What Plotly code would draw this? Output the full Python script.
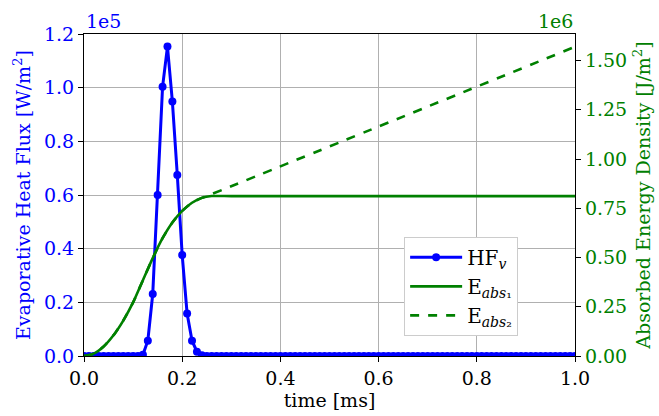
import plotly.graph_objects as go

# ---- data ----
# time grid for the heat-flux samples [ms]
t_hf = [round(i * 0.01, 2) for i in range(101)]
# evaporative heat flux in units of 1e5 W/m^2 (zero except during the pulse)
hf_peak = [0.005, 0.057, 0.231, 0.600, 1.003, 1.153, 0.948, 0.675, 0.376, 0.158, 0.057, 0.016, 0.003]
hf_1e5 = [0.0] * 12 + hf_peak + [0.0] * 76

# absorbed energy density in units of 1e6 J/m^2
t_e = [0.0, 0.02, 0.04, 0.06, 0.08, 0.10, 0.12, 0.14, 0.16, 0.18, 0.20, 0.22, 0.24, 0.26, 0.30, 1.0]
e1_1e6 = [0.0, 0.012, 0.048, 0.105, 0.180, 0.272, 0.385, 0.497, 0.598, 0.678, 0.737, 0.778, 0.803, 0.812, 0.812, 0.812]
t_e2 = [0.0, 0.02, 0.04, 0.06, 0.08, 0.10, 0.12, 0.14, 0.16, 0.18, 0.20, 0.22, 0.24, 0.26, 1.0]
e2_1e6 = [0.0, 0.012, 0.048, 0.105, 0.180, 0.272, 0.385, 0.497, 0.598, 0.678, 0.737, 0.778, 0.803, 0.822, 1.570]

x_ticks = [0.0, 0.2, 0.4, 0.6, 0.8, 1.0]
y1_ticks = [0.0, 0.2, 0.4, 0.6, 0.8, 1.0, 1.2]
y2_ticks = [0.0, 0.25, 0.5, 0.75, 1.0, 1.25, 1.5]

BLUE = "#0000ff"
GREEN = "#008000"
FONT = "'DejaVu Serif', serif"
FS = 19

fig = go.Figure()
fig.add_trace(go.Scatter(
    x=t_hf, y=hf_1e5, mode="lines+markers", name="HF<sub><i>v</i></sub>",
    line=dict(color=BLUE, width=3), marker=dict(color=BLUE, size=8),
    yaxis="y"))
fig.add_trace(go.Scatter(
    x=t_e, y=e1_1e6, mode="lines", name="E<sub><i>abs</i>₁</sub>",
    line=dict(color=GREEN, width=2.6, shape="spline", smoothing=0.6),
    yaxis="y2"))
fig.add_trace(go.Scatter(
    x=t_e2, y=e2_1e6, mode="lines", name="E<sub><i>abs</i>₂</sub>",
    line=dict(color=GREEN, width=2.6, dash="dash", shape="spline", smoothing=0.6),
    yaxis="y2"))

fig.update_layout(
    width=659, height=416,
    margin=dict(l=84, r=84, t=34, b=60, autoexpand=False),
    paper_bgcolor="white", plot_bgcolor="white",
    font=dict(family=FONT, size=FS, color="black"),
    showlegend=True,
    legend=dict(x=0.652, y=0.37, xanchor="left", yanchor="top",
                bgcolor="white", bordercolor="#cccccc", borderwidth=1,
                itemwidth=52, tracegroupgap=4,
                font=dict(family=FONT, size=20)),
    xaxis=dict(range=[0, 1], tickvals=x_ticks, ticktext=[f"{v:.1f}" for v in x_ticks],
               showgrid=True, gridcolor="#b0b0b0", gridwidth=1, zeroline=False,
               showline=True, linecolor="black", linewidth=1.2, mirror=True,
               ticks="outside", ticklen=5, tickcolor="black", automargin=False,
               title=dict(text="time [ms]", font=dict(family=FONT, size=FS), standoff=4)),
    yaxis=dict(range=[0, 1.2], tickvals=y1_ticks, ticktext=[f"{v:.1f}" for v in y1_ticks],
               showgrid=True, gridcolor="#b0b0b0", gridwidth=1, zeroline=False,
               showline=True, linecolor="black", linewidth=1.2,
               ticks="outside", ticklen=5, tickcolor="black", automargin=False,
               tickfont=dict(color=BLUE, family=FONT, size=FS),
               title=dict(text="Evaporative Heat Flux [W/m<sup>2</sup>]",
                          font=dict(color=BLUE, family=FONT, size=FS), standoff=8)),
    yaxis2=dict(range=[0, 1.635], overlaying="y", side="right",
                tickvals=y2_ticks, ticktext=[f"{v:.2f}" for v in y2_ticks],
                showgrid=False, zeroline=False, automargin=False,
                showline=True, linecolor="black", linewidth=1.2,
                ticks="outside", ticklen=5, tickcolor="black",
                tickfont=dict(color=GREEN, family=FONT, size=FS),
                title=dict(text="Absorbed Energy Density [J/m<sup>2</sup>]",
                           font=dict(color=GREEN, family=FONT, size=FS), standoff=10)),
    annotations=[
        dict(text="1e5", xref="paper", yref="paper", x=0, y=1, xanchor="left",
             yanchor="bottom", showarrow=False, yshift=0,
             font=dict(color=BLUE, family=FONT, size=FS)),
        dict(text="1e6", xref="paper", yref="paper", x=1, y=1, xanchor="right",
             yanchor="bottom", showarrow=False, yshift=0,
             font=dict(color=GREEN, family=FONT, size=FS)),
    ],
)

fig.write_html("out.html")
